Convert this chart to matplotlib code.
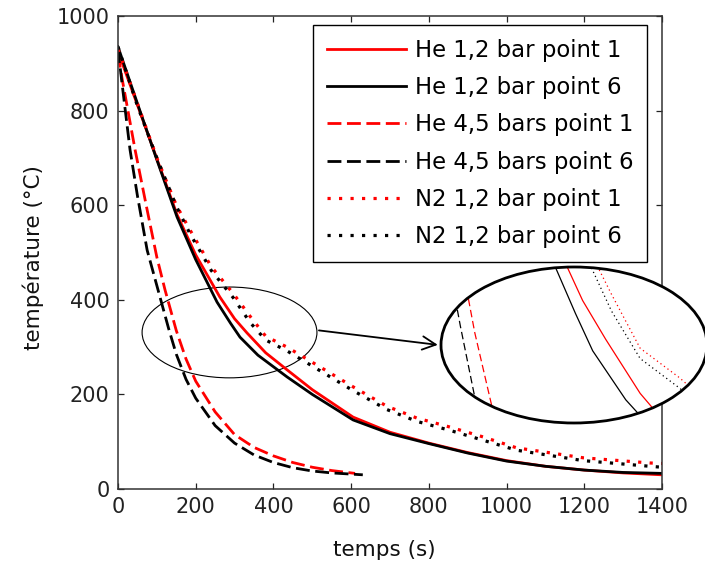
import numpy as np
import matplotlib
matplotlib.use("Agg")
import matplotlib.pyplot as plt
from matplotlib.patches import Ellipse

plt.rcParams['font.family'] = ['DejaVu Sans']

# Donnees : temps (s) et temperature (degC)
t_he12_p1 = [0, 50, 100, 152, 200, 262, 300, 332, 380, 435, 500, 605, 700, 800, 900, 1000, 1100, 1200, 1300, 1400]
T_he12_p1 = [925, 812, 698, 580, 495, 406, 360, 330, 288, 252, 210, 152, 120, 97, 77, 60, 48, 40, 34, 30]

t_he12_p6 = [0, 50, 100, 152, 200, 255, 290, 314, 360, 435, 500, 605, 700, 800, 900, 1000, 1100, 1200, 1300, 1400]
T_he12_p6 = [935, 815, 696, 575, 485, 395, 350, 321, 283, 237, 200, 146, 117, 96, 76, 59, 48, 40, 35, 33]

t_he45_p1 = [0, 10, 44, 75, 100, 121, 150, 175, 200, 250, 300, 350, 400, 450, 500, 550, 610]
T_he45_p1 = [920, 870, 717, 590, 490, 421, 335, 275, 228, 163, 115, 88, 70, 56, 46, 39, 33]

t_he45_p6 = [0, 10, 31, 50, 75, 108, 130, 150, 175, 200, 250, 300, 350, 400, 450, 500, 550, 630]
T_he45_p6 = [930, 860, 717, 620, 505, 406, 340, 285, 232, 192, 134, 97, 72, 56, 45, 38, 34, 30]

t_n2_p1 = [0, 50, 100, 150, 185, 240, 296, 340, 380, 435, 520, 605, 692, 769, 854, 940, 1026, 1197, 1369, 1400]
T_n2_p1 = [930, 815, 700, 600, 548, 470, 414, 365, 323, 300, 258, 216, 175, 150, 131, 110, 87, 66, 55, 54]

t_n2_p6 = [0, 50, 100, 150, 185, 240, 296, 340, 380, 435, 520, 605, 692, 769, 854, 940, 1026, 1197, 1369, 1400]
T_n2_p6 = [935, 810, 700, 598, 540, 462, 405, 352, 315, 292, 250, 208, 168, 143, 124, 103, 82, 60, 48, 46]

labels = ["He 1,2 bar point 1", "He 1,2 bar point 6",
          "He 4,5 bars point 1", "He 4,5 bars point 6",
          "N2 1,2 bar point 1", "N2 1,2 bar point 6"]

# (temps, temperature, couleur, style) ; style : 'solid', 'dash', 'dot'
series = [(t_he12_p1, T_he12_p1, 'red', 'solid'),
          (t_he12_p6, T_he12_p6, 'black', 'solid'),
          (t_he45_p1, T_he45_p1, 'red', 'dash'),
          (t_he45_p6, T_he45_p6, 'black', 'dash'),
          (t_n2_p1, T_n2_p1, 'red', 'dot'),
          (t_n2_p6, T_n2_p6, 'black', 'dot')]

main_ls = {'solid': '-', 'dash': (0, (5, 2)), 'dot': (0, (1, 2.6))}
main_lw = {'solid': 2, 'dash': 2, 'dot': 2.3}
zoom_ls = {'solid': '-', 'dash': (0, (6, 3)), 'dot': (0, (1, 2.5))}

W, H = 705, 563
fig = plt.figure(figsize=(W / 100, H / 100), dpi=100)
ax = fig.add_axes([118 / W, 1 - 489 / H, 544 / W, 473 / H])

for (t, T, c, st), lab in zip(series, labels):
    ax.plot(t, T, color=c, linestyle=main_ls[st], lw=main_lw[st], label=lab)

ax.set_xlim(0, 1400)
ax.set_ylim(0, 1000)
ax.set_xticks(range(0, 1401, 200))
ax.set_yticks(range(0, 1001, 200))
ax.tick_params(direction='in', length=4, width=0.9, top=True, right=True,
               labelsize=15, pad=6, colors='#222222')
for s in ax.spines.values():
    s.set_linewidth(1.1)
    s.set_color('#333333')

ax.set_xlabel("temps (s)", fontsize=15.5, color='#111111')
ax.set_ylabel("température (°C)", fontsize=15.5, color='#111111')
ax.xaxis.set_label_coords(0.49, -0.108)
ax.yaxis.set_label_coords(-0.136, 0.49)

leg = ax.legend(loc='upper left', bbox_to_anchor=(313 / W, 1 - 25 / H),
                bbox_transform=fig.transFigure, fontsize=16.4, frameon=True,
                fancybox=False, framealpha=1, edgecolor='black',
                borderaxespad=0, borderpad=0.6, handlelength=3.5,
                handletextpad=0.36, labelspacing=0.63)
leg.get_frame().set_linewidth(1.0)

# petite ellipse autour de la zone agrandie
ax.add_patch(Ellipse((287, 331), 450, 192, fill=False, edgecolor='black', lw=0.8))
ax.annotate('', xy=(830, 304), xytext=(510, 336),
            arrowprops=dict(arrowstyle='->', lw=1.3, color='black', mutation_scale=24),
            annotation_clip=False)

# loupe
axins = fig.add_axes([441 / W, 140 / H, 266 / W, 156 / H])
axins.set_axis_off()
axins.patch.set_visible(False)
bg = Ellipse((0.5, 0.5), 1, 1, transform=axins.transAxes, facecolor='white',
             edgecolor='none', clip_on=False, zorder=0)
axins.add_patch(bg)
for (t, T, c, st) in series:
    ln, = axins.plot(t, T, color=c, linestyle=zoom_ls[st], lw=0.9, zorder=2)
    ln.set_clip_path(bg)
axins.set_xlim(103, 473)
axins.set_ylim(265, 386)
axins.add_patch(Ellipse((0.5, 0.5), 1, 1, transform=axins.transAxes, fill=False,
                        edgecolor='black', lw=2, clip_on=False, zorder=3))

fig.savefig("out.png", dpi=100)
